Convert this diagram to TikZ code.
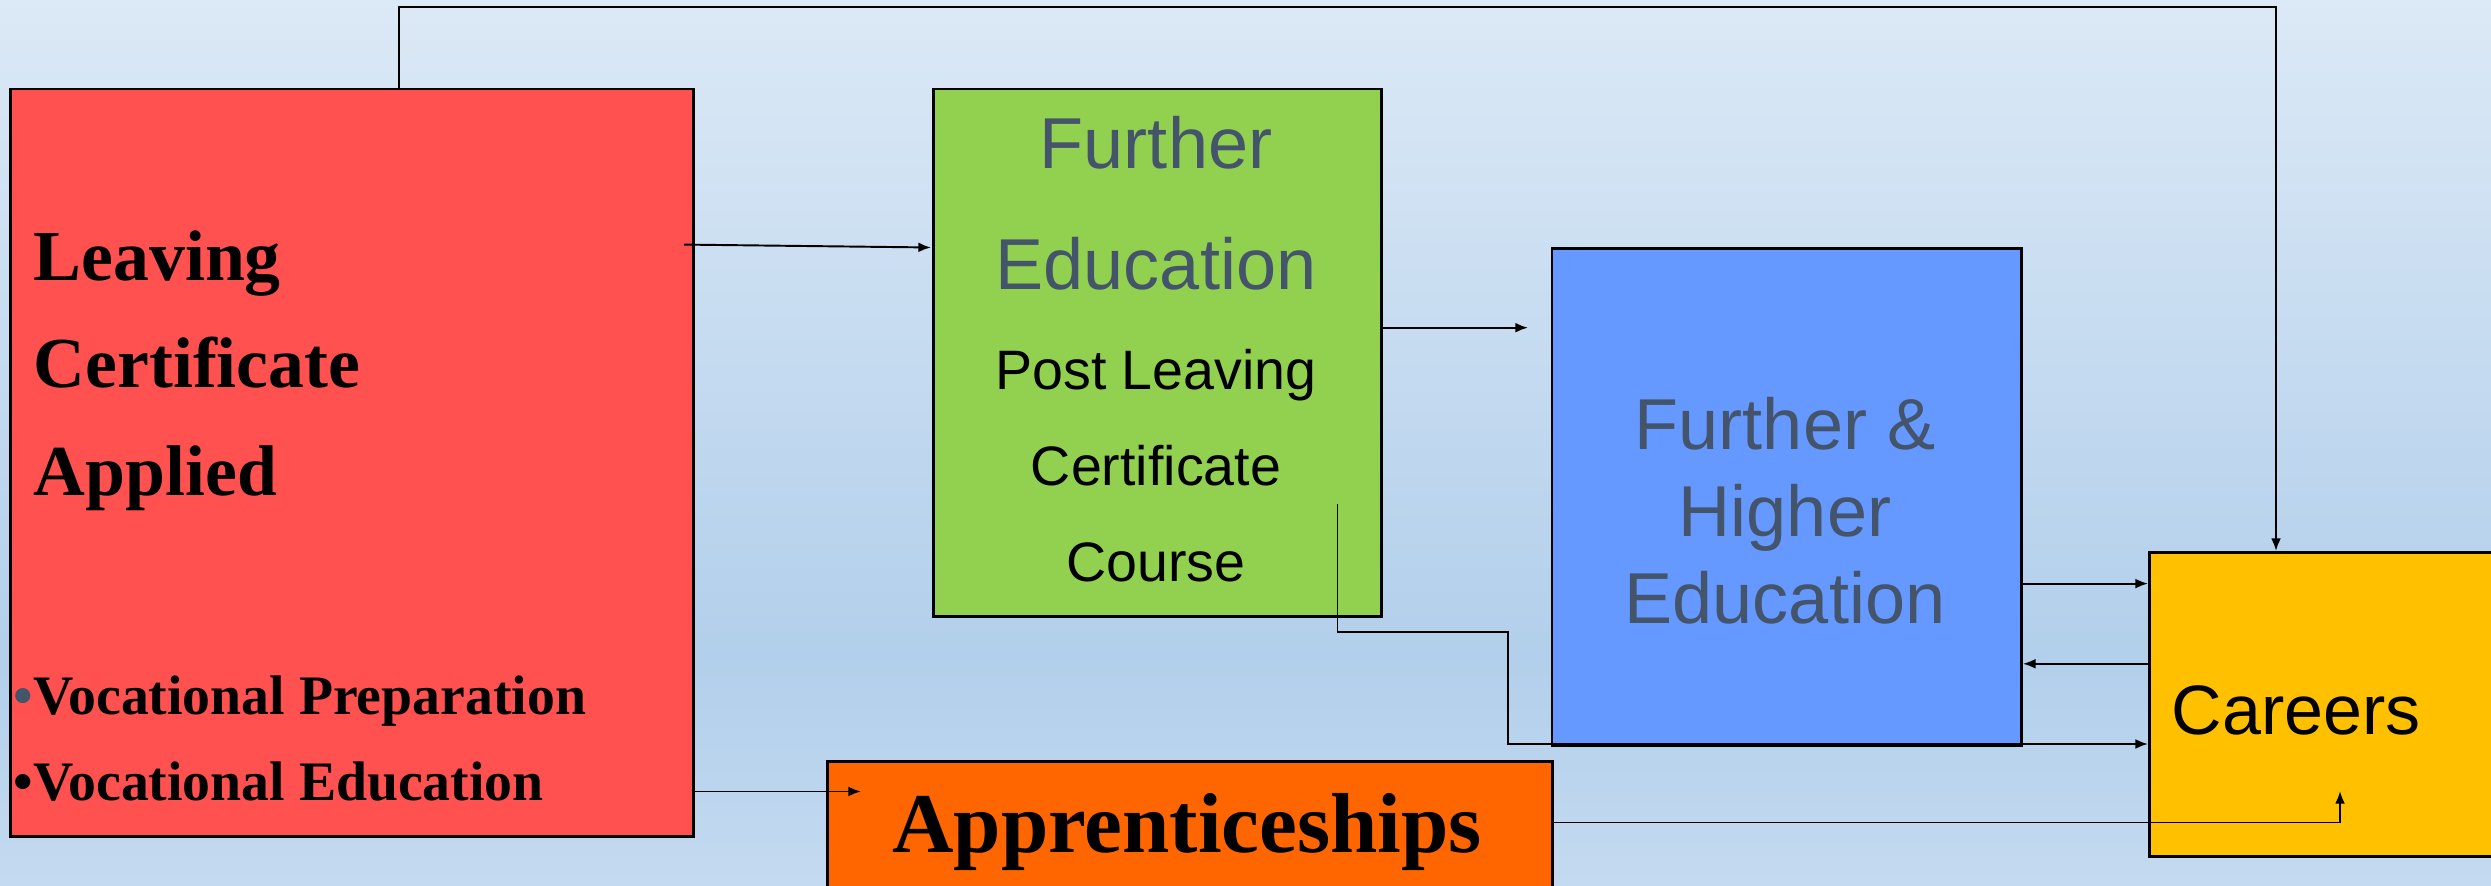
\documentclass[tikz,border=0pt]{standalone}
\usepackage{fontspec}
\setmainfont{Liberation Serif}
\newfontfamily\lsans{Liberation Sans}
\usetikzlibrary{arrows.meta,calc}
\definecolor{bgtop}{RGB}{220,233,246}
\definecolor{bgmid}{RGB}{178,207,235}
\definecolor{bgbot}{RGB}{196,218,240}
\definecolor{cred}{RGB}{255,82,80}
\definecolor{cgreen}{RGB}{146,208,80}
\definecolor{cblue}{RGB}{102,153,255}
\definecolor{corange}{RGB}{255,102,0}
\definecolor{cyellow}{RGB}{255,192,0}
\definecolor{cgray}{RGB}{68,84,106}
\pgfdeclareverticalshading{bgshade}{100bp}{color(0bp)=(bgbot); color(25bp)=(bgbot); color(38bp)=(bgmid); color(75bp)=(bgtop); color(100bp)=(bgtop)}
\begin{document}
\begin{tikzpicture}[x=0.01cm,y=-0.01cm,
  box/.style={draw=black, line width=0.75pt, inner sep=0pt, anchor=north west},
  conn/.style={draw=black, line width=0.55pt, -{Latex[length=3.6pt,width=2.8pt]}},
  txt/.style={inner sep=0pt, anchor=base},
  ltxt/.style={inner sep=0pt, anchor=base west},
  bigsans/.style={font=\lsans\fontsize{20.5pt}{24pt}\selectfont, text=cgray},
  smallsans/.style={font=\lsans\fontsize{15.8pt}{18pt}\selectfont, text=black},
  titleserif/.style={font=\bfseries\fontsize{20.4pt}{25pt}\selectfont, text=black},
  bulletserif/.style={font=\bfseries\fontsize{15.85pt}{19pt}\selectfont, text=black}]
\useasboundingbox (0,0) rectangle (2491,886);
\shade[shading=bgshade] (0,0) rectangle (2491,886);

% boxes
\node[box, fill=cred, minimum width=6.83cm, minimum height=7.47cm] (lca) at (9,87.6) {};
\node[box, fill=cgreen, minimum width=4.48cm, minimum height=5.274cm] (fe) at (932,87.6) {};
\node[box, fill=cblue, minimum width=4.695cm, minimum height=4.965cm] (fhe) at (1550.5,247.5) {};
\node[box, fill=cyellow, minimum width=4.6cm, minimum height=3.04cm] (car) at (2148,551) {};
\node[box, fill=corange, minimum width=7.245cm, minimum height=2.0cm] (app) at (826,760) {};

% red box text
\node[ltxt, titleserif] (t1) at (33,280.8) {Leaving};
\node[ltxt, titleserif] (t2) at (33,388) {Certificate};
\node[ltxt, titleserif] (t3) at (33,495.5) {Applied};
\node[ltxt, bulletserif] (b1) at (13,714.7) {\textcolor{cgray}{•}Vocational Preparation};
\node[ltxt, bulletserif] (b2) at (13,801) {•Vocational Education};

% green box text
\node[txt, bigsans] (g1) at (1156,168.4) {Further};
\node[txt, bigsans] (g2) at (1156,289.8) {Education};
\node[txt, smallsans] (g3) at (1156,389.8) {Post Leaving};
\node[txt, smallsans] (g4) at (1156,486) {Certificate};
\node[txt, smallsans] (g5) at (1156,582) {Course};

% blue box text
\node[txt, bigsans] (h1) at (1785,450) {Further \&};
\node[txt, bigsans] (h2) at (1785,536.7) {Higher};
\node[txt, bigsans] (h3) at (1785,623.3) {Education};

% careers & apprenticeships text
\node[ltxt, font=\lsans\fontsize{19.9pt}{24pt}\selectfont] (c1) at (2171,734.5) {Careers};
\node[txt, font=\bfseries\fontsize{24.2pt}{29pt}\selectfont] (a1) at (1187,853) {Apprenticeships};

% helper coordinates
\coordinate (tl) at (398.6,7.3);
\coordinate (tr) at (2276,7.3);
\coordinate (rgS) at (684,244.6);
\coordinate (rgE) at (931,247.5);
\coordinate (y791) at (0,791.5);
\coordinate (appIn) at (861,791.5);
\coordinate (y328) at (0,327.7);
\coordinate (fheIn) at (1528,327.7);
\coordinate (p0) at (1337.5,504.5);
\coordinate (p1) at (1337.5,631.6);
\coordinate (p2) at (1507.8,631.6);
\coordinate (p3) at (1507.8,744);
\coordinate (y584) at (0,583.6);
\coordinate (y664) at (0,663.8);
\coordinate (y822) at (0,822.5);
\coordinate (q1) at (2340,822.5);
\coordinate (q2) at (2340,791);

% connectors
\draw[conn] (lca.north -| tl) -- (tl) -- (tr) -- (tr |- car.north);
\draw[conn] (rgS) -- (rgE);
\draw[conn] (lca.east |- y791) -- (appIn);
\draw[conn] (fe.east |- y328) -- (fheIn);
\draw[conn] (p0) -- (p1) -- (p2) -- (p3) -- (car.west |- p3);
\draw[conn] (fhe.east |- y584) -- (car.west |- y584);
\draw[conn] (car.west |- y664) -- (fhe.east |- y664);
\draw[conn] (app.east |- y822) -- (q1) -- (q2);
\end{tikzpicture}
\end{document}
